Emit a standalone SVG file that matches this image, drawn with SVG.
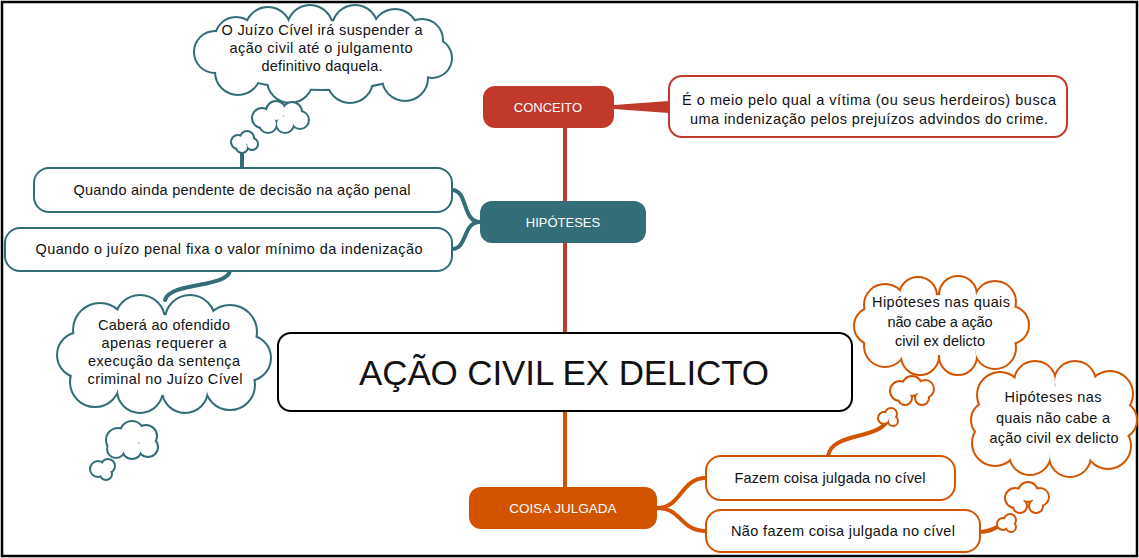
<svg xmlns="http://www.w3.org/2000/svg" xmlns:xlink="http://www.w3.org/1999/xlink" width="1139" height="558" viewBox="0 0 1139 558">
<style>
text{font-family:"Liberation Sans",Arial,sans-serif;fill:#111;text-anchor:middle}
.t{font-size:14.5px}
.lbl{font-size:13px;fill:#fff}
.title{font-size:35px}
.box{fill:#fff;stroke-width:2}
.teal{stroke:#336D78}
.red{stroke:#C0392B}
.org{stroke:#D35400}
.con{fill:none;stroke-width:4;stroke-linecap:round}
.cl-teal{fill:#fff;stroke:#336D78;stroke-width:4}
.cl-org{fill:#fff;stroke:#D35400;stroke-width:4}
.cl-fill{fill:#fff;stroke:none}
</style>
<defs>
<g id="cloudTop">
<ellipse cx="322" cy="55" rx="105" ry="34"/>
<circle cx="236" cy="38" r="20"/><circle cx="268" cy="30" r="22"/><circle cx="310" cy="28" r="22"/><circle cx="355" cy="28" r="22"/><circle cx="395" cy="32" r="22"/><circle cx="422" cy="40" r="20"/><circle cx="432" cy="58" r="19"/><circle cx="405" cy="78" r="22"/><circle cx="350" cy="80" r="22"/><circle cx="290" cy="80" r="22"/><circle cx="238" cy="72" r="22"/><circle cx="215" cy="52" r="20"/>
</g>
<g id="cloudTop2">
<circle cx="262" cy="118" r="9"/><circle cx="276" cy="111" r="9"/><circle cx="292" cy="112" r="9"/><circle cx="300" cy="120" r="8"/><circle cx="285" cy="124" r="8"/><circle cx="268" cy="124" r="8"/>
</g>
<g id="cloudTop3">
<circle cx="238" cy="142" r="6"/><circle cx="247" cy="138" r="6"/><circle cx="252" cy="144" r="5"/><circle cx="242" cy="147" r="5"/>
</g>
<g id="cloudBL">
<ellipse cx="163" cy="355" rx="80" ry="40"/>
<circle cx="100" cy="330" r="26"/><circle cx="140" cy="320" r="24"/><circle cx="190" cy="320" r="24"/><circle cx="230" cy="332" r="26"/><circle cx="248" cy="358" r="22"/><circle cx="230" cy="385" r="24"/><circle cx="185" cy="390" r="22"/><circle cx="140" cy="390" r="22"/><circle cx="95" cy="382" r="24"/><circle cx="80" cy="355" r="22"/>
</g>
<g id="cloudBL2">
<circle cx="118" cy="440" r="11"/><circle cx="132" cy="433" r="11"/><circle cx="146" cy="436" r="10"/><circle cx="148" cy="447" r="9"/><circle cx="132" cy="449" r="9"/><circle cx="116" cy="449" r="8"/>
</g>
<g id="cloudBL3">
<circle cx="98" cy="469" r="7"/><circle cx="108" cy="466" r="6"/><circle cx="106" cy="474" r="5"/>
</g>
<g id="cloudA">
<ellipse cx="941" cy="325" rx="62" ry="30"/>
<circle cx="885" cy="305" r="20"/><circle cx="918" cy="296" r="18"/><circle cx="958" cy="295" r="18"/><circle cx="995" cy="302" r="20"/><circle cx="1010" cy="325" r="18"/><circle cx="995" cy="348" r="20"/><circle cx="958" cy="356" r="18"/><circle cx="920" cy="356" r="18"/><circle cx="885" cy="346" r="20"/><circle cx="873" cy="326" r="18"/>
</g>
<g id="cloudA2">
<circle cx="900" cy="391" r="9"/><circle cx="912" cy="386" r="9"/><circle cx="925" cy="389" r="8"/><circle cx="922" cy="398" r="6"/><circle cx="905" cy="398" r="6"/>
</g>
<g id="cloudA3">
<circle cx="884" cy="418" r="5"/><circle cx="891" cy="414" r="5"/><circle cx="893" cy="421" r="4"/>
</g>
<g id="cloudB">
<ellipse cx="1055" cy="420" rx="60" ry="34"/>
<circle cx="1000" cy="395" r="22"/><circle cx="1035" cy="382" r="20"/><circle cx="1075" cy="382" r="20"/><circle cx="1110" cy="394" r="22"/><circle cx="1118" cy="420" r="18"/><circle cx="1108" cy="446" r="22"/><circle cx="1070" cy="456" r="20"/><circle cx="1030" cy="454" r="20"/><circle cx="995" cy="443" r="22"/><circle cx="990" cy="420" r="18"/>
</g>
<g id="cloudB2">
<circle cx="1015" cy="498" r="9"/><circle cx="1028" cy="492" r="9"/><circle cx="1040" cy="497" r="8"/><circle cx="1036" cy="506" r="6"/><circle cx="1020" cy="506" r="6"/>
</g>
<g id="cloudB3">
<circle cx="1003" cy="524" r="5"/><circle cx="1010" cy="520" r="5"/><circle cx="1011" cy="527" r="4"/>
</g>
</defs>

<rect x="2" y="2" width="1135" height="554" fill="#fff" stroke="#000" stroke-width="2.5"/>

<g id="connectors">
<path d="M565,128 L565,333" class="con red"/>
<path d="M565,411 L565,487" class="con org"/>
<path d="M614,105 L669,101 L669,113 L614,109 Z" fill="#C0392B"/>
<path d="M480,222 C462,222 468,190 452,190 M480,222 C462,222 468,249 452,249" class="con teal"/>
<path d="M657,508 C682,508 680,478 706,478 M657,508 C682,508 680,531 706,531" class="con org"/>
<path d="M242,168 L242,146" class="con teal"/>
<path d="M230,271 C226,288 170,282 165,300" class="con teal"/>
<path d="M828,456 C832,432 878,440 888,420" class="con org"/>
<path d="M980,532 C990,532 995,528 1003,524" class="con org"/>
</g>

<g id="cloud-suspender">
<use xlink:href="#cloudTop" class="cl-teal"/><use xlink:href="#cloudTop" class="cl-fill"/>
<use xlink:href="#cloudTop2" class="cl-teal"/><use xlink:href="#cloudTop2" class="cl-fill"/>
<use xlink:href="#cloudTop3" class="cl-teal"/><use xlink:href="#cloudTop3" class="cl-fill"/>
<text class="t" x="322" y="35" textLength="201">O Juízo Cível irá suspender a</text>
<text class="t" x="321" y="53" textLength="183">ação civil até o julgamento</text>
<text class="t" x="322" y="71" textLength="121">definitivo daquela.</text>
</g>

<g id="cloud-cabera">
<use xlink:href="#cloudBL" class="cl-teal"/><use xlink:href="#cloudBL" class="cl-fill"/>
<use xlink:href="#cloudBL2" class="cl-teal"/><use xlink:href="#cloudBL2" class="cl-fill"/>
<use xlink:href="#cloudBL3" class="cl-teal"/><use xlink:href="#cloudBL3" class="cl-fill"/>
<text class="t" x="164" y="330" textLength="132">Caberá ao ofendido</text>
<text class="t" x="164" y="348" textLength="125">apenas requerer a</text>
<text class="t" x="164" y="366" textLength="152">execução da sentença</text>
<text class="t" x="165" y="384" textLength="155">criminal no Juízo Cível</text>
</g>

<g id="cloud-a">
<use xlink:href="#cloudA" class="cl-org"/><use xlink:href="#cloudA" class="cl-fill"/>
<use xlink:href="#cloudA2" class="cl-org"/><use xlink:href="#cloudA2" class="cl-fill"/>
<use xlink:href="#cloudA3" class="cl-org"/><use xlink:href="#cloudA3" class="cl-fill"/>
<text class="t" x="941" y="307" textLength="138">Hipóteses nas quais</text>
<text class="t" x="940" y="327" textLength="105">não cabe a ação</text>
<text class="t" x="940" y="346" textLength="90">civil ex delicto</text>
</g>

<g id="cloud-b">
<use xlink:href="#cloudB" class="cl-org"/><use xlink:href="#cloudB" class="cl-fill"/>
<use xlink:href="#cloudB2" class="cl-org"/><use xlink:href="#cloudB2" class="cl-fill"/>
<use xlink:href="#cloudB3" class="cl-org"/><use xlink:href="#cloudB3" class="cl-fill"/>
<text class="t" x="1053" y="402" textLength="97">Hipóteses nas</text>
<text class="t" x="1053" y="423" textLength="114">quais não cabe a</text>
<text class="t" x="1054" y="443" textLength="129">ação civil ex delicto</text>
</g>

<g id="node-central">
<rect x="278" y="333" width="574" height="78" rx="13" fill="#fff" stroke="#000" stroke-width="2"/>
<text class="title" x="564" y="385" textLength="410">AÇÃO CIVIL EX DELICTO</text>
</g>

<g id="node-conceito">
<rect x="483" y="86" width="131" height="42" rx="12" fill="#C0392B"/>
<text class="lbl" x="548" y="112">CONCEITO</text>
</g>

<g id="node-conceito-desc">
<rect x="669" y="76" width="398" height="61" rx="13" class="box red"/>
<text class="t" x="869" y="105" textLength="374">É o meio pelo qual a vítima (ou seus herdeiros) busca</text>
<text class="t" x="869" y="124" textLength="358">uma indenização pelos prejuízos advindos do crime.</text>
</g>

<g id="node-hipoteses">
<rect x="480" y="201" width="166" height="42" rx="12" fill="#336D78"/>
<text class="lbl" x="563" y="227">HIPÓTESES</text>
</g>

<g id="node-pendente">
<rect x="34" y="168" width="418" height="44" rx="15" class="box teal"/>
<text class="t" x="242" y="195" textLength="337">Quando ainda pendente de decisão na ação penal</text>
</g>

<g id="node-valor">
<rect x="5" y="228" width="447" height="43" rx="15" class="box teal"/>
<text class="t" x="229" y="254" textLength="387">Quando o juízo penal fixa o valor mínimo da indenização</text>
</g>

<g id="node-coisa">
<rect x="469" y="487" width="188" height="42" rx="12" fill="#D35400"/>
<text class="lbl" x="563" y="513" style="font-size:13.5px">COISA JULGADA</text>
</g>

<g id="node-fazem">
<rect x="706" y="456" width="249" height="44" rx="15" class="box org"/>
<text class="t" x="830" y="483" textLength="191">Fazem coisa julgada no cível</text>
</g>

<g id="node-nao-fazem">
<rect x="706" y="510" width="274" height="42" rx="15" class="box org"/>
<text class="t" x="843" y="536" textLength="224">Não fazem coisa julgada no cível</text>
</g>
</svg>
